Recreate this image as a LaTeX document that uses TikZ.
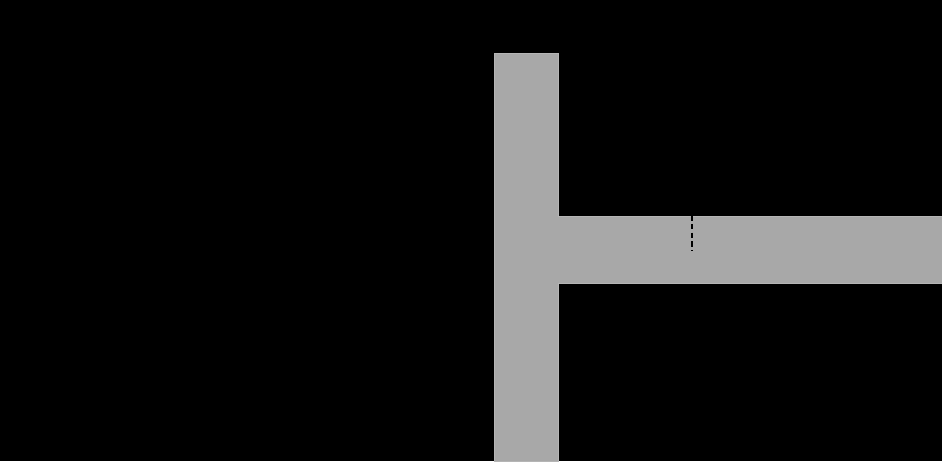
\documentclass[tikz,border=0pt]{standalone}
\usetikzlibrary{positioning}

\definecolor{pipegray}{RGB}{168,168,168}

\begin{document}
\begin{tikzpicture}[
    x=0.02cm, y=0.02cm,
    % Define background style
    back style/.style={
        fill=black % Black backdrop
      },
    % Define pipe style
    pipe style/.style={
        fill=pipegray, % Gray fill
        draw=pipegray!85!white, % Thin light edge
        line width=0.3pt % Edge thickness
      },
    % Define marker style
    cut style/.style={
        draw=black, % Black line
        line width=1.5pt, % Line thickness
        dash pattern=on 3.2pt off 1.8pt % Short dashes
      }
  ]

  % Background and bounding box
  \fill[back style] (0,0) rectangle (942,461);
  \useasboundingbox (0,0) rectangle (942,461);

  % Corner points of the T
  \coordinate (StemBL) at (494,0);
  \coordinate (StemTL) at (494,408);
  \coordinate (StemTR) at (558,408);
  \coordinate (ArmTL) at (558,245);
  \coordinate (ArmTR) at (942,245);
  \coordinate (ArmBR) at (942,178);
  \coordinate (ArmBL) at (558,178);
  \coordinate (StemBR) at (558,0);

  % Vertical stem joined to the horizontal arm
  \filldraw[pipe style] (StemBL) -- (StemTL) -- (StemTR) -- (ArmTL) -- (ArmTR)
    -- (ArmBR) -- (ArmBL) -- (StemBR) -- cycle;

  % Dashed cut across the top of the arm
  \coordinate (CutTop) at (692,246);
  \coordinate (CutBot) at (692,210);
  \draw[cut style] (CutTop) -- (CutBot);

\end{tikzpicture}
\end{document}
